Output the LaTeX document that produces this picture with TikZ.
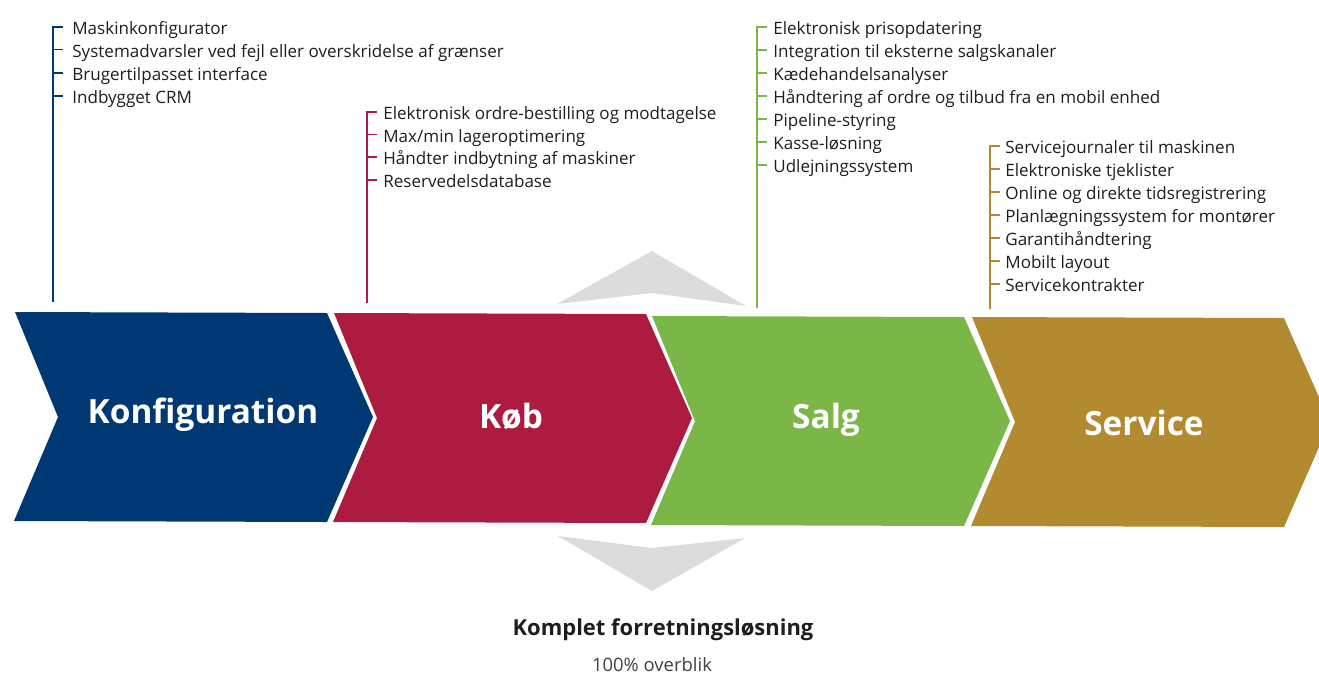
\documentclass[tikz,border=0pt]{standalone}
\usepackage{fontspec}
\setmainfont{Open Sans}
\usepackage{tikz}

\definecolor{konfblue}{RGB}{0,56,115}
\definecolor{kobred}{RGB}{173,28,64}
\definecolor{salggreen}{RGB}{122,182,72}
\definecolor{servgold}{RGB}{178,138,48}
\definecolor{arrowgrey}{RGB}{220,220,220}
\definecolor{itemtext}{RGB}{30,30,30}

\tikzset{
  phase/.style={text=white,font=\fontsize{19}{22}\selectfont\bfseries,inner sep=0pt},
  item/.style={anchor=west,inner sep=0pt,text height=9.07pt,text depth=0pt,
    text=itemtext,font=\fontsize{9.7}{11}\selectfont},
  bar/.style={line width=0.6pt,draw=#1}
}

\begin{document}
\begin{tikzpicture}[x=0.02cm,y=-0.02cm]
    \useasboundingbox (0,0) rectangle (1319,674);

    % the four chevrons
    \fill[konfblue] (15,312) -- ++(312,1) -- ++(46,104) -- ++(-46,105)
      -- ++(-313,-1) -- ++(44,-104) -- cycle;
    \fill[kobred] (334,313) -- ++(312,1) -- ++(46,104) -- ++(-46,105)
      -- ++(-313,-1) -- ++(44,-104) -- cycle;
    \fill[salggreen] (652,316) -- ++(312,1) -- ++(46,104) -- ++(-46,105)
      -- ++(-313,-1) -- ++(44,-104) -- cycle;
    \fill[servgold] (972,317) -- ++(312,1) -- ++(46,104) -- ++(-46,105)
      -- ++(-313,-1) -- ++(44,-104) -- cycle;
    \node[phase] (konf) at (203,415) {Konfiguration};
    \node[phase] (kob) at (511,416) {Køb};
    \node[phase] (salg) at (826,420) {Salg};
    \node[phase] (serv) at (1144,423) {Service};

    % grey arrows
    \fill[arrowgrey] (652,251) -- (746,306) -- (652,293) -- (557,304) -- cycle;
    \fill[arrowgrey] (558,536) -- (652,548) -- (745,538) -- (652,591) -- cycle;

    % Konfiguration
    \begin{scope}
      \coordinate (konftop) at (53,27);
      \coordinate (konfbot) at (53,302);
      \node[item] (k1) at (72,27) {Maskinkonfigurator};
      \node[item] (k2) at (72,49.5) {Systemadvarsler ved fejl eller overskridelse af grænser};
      \node[item] (k3) at (72,73) {Brugertilpasset interface};
      \node[item] (k4) at (72,96) {Indbygget CRM};
      \draw[bar=konfblue] (konfbot) -- (konftop) -- ++(10,0);
      \draw[bar=konfblue] (k2.west -| konftop) -- ++(10,0);
      \draw[bar=konfblue] (k3.west -| konftop) -- ++(10,0);
      \draw[bar=konfblue] (k4.west -| konftop) -- ++(10,0);
    \end{scope}

    % Køb
    \begin{scope}
      \coordinate (kobtop) at (367,112);
      \coordinate (kobbot) at (367,303);
      \node[item] (b1) at (383,112) {Elektronisk ordre-bestilling og modtagelse};
      \node[item] (b2) at (383,134.5) {Max/min lageroptimering};
      \node[item] (b3) at (383,157) {Håndter indbytning af maskiner};
      \node[item] (b4) at (383,180) {Reservedelsdatabase};
      \draw[bar=kobred] (kobbot) -- (kobtop) -- ++(10,0);
      \draw[bar=kobred] (b2.west -| kobtop) -- ++(10,0);
      \draw[bar=kobred] (b3.west -| kobtop) -- ++(10,0);
      \draw[bar=kobred] (b4.west -| kobtop) -- ++(10,0);
    \end{scope}

    % Salg
    \begin{scope}
      \coordinate (salgtop) at (757,27);
      \coordinate (salgbot) at (757,308);
      \node[item] (s1) at (773,27) {Elektronisk prisopdatering};
      \node[item] (s2) at (773,50) {Integration til eksterne salgskanaler};
      \node[item] (s3) at (773,73) {Kædehandelsanalyser};
      \node[item] (s4) at (773,96) {Håndtering af ordre og tilbud fra en mobil enhed};
      \node[item] (s5) at (773,119) {Pipeline-styring};
      \node[item] (s6) at (773,142) {Kasse-løsning};
      \node[item] (s7) at (773,165) {Udlejningssystem};
      \draw[bar=salggreen] (salgbot) -- (salgtop) -- ++(10,0);
      \draw[bar=salggreen] (s2.west -| salgtop) -- ++(10,0);
      \draw[bar=salggreen] (s3.west -| salgtop) -- ++(10,0);
      \draw[bar=salggreen] (s4.west -| salgtop) -- ++(10,0);
      \draw[bar=salggreen] (s5.west -| salgtop) -- ++(10,0);
      \draw[bar=salggreen] (s6.west -| salgtop) -- ++(10,0);
      \draw[bar=salggreen] (s7.west -| salgtop) -- ++(10,0);
    \end{scope}

    % Service
    \begin{scope}
      \coordinate (servtop) at (990,146);
      \coordinate (servbot) at (990,309);
      \node[item] (v1) at (1005,146) {Servicejournaler til maskinen};
      \node[item] (v2) at (1005,169) {Elektroniske tjeklister};
      \node[item] (v3) at (1005,192) {Online og direkte tidsregistrering};
      \node[item] (v4) at (1005,215) {Planlægningssystem for montører};
      \node[item] (v5) at (1005,238) {Garantihåndtering};
      \node[item] (v6) at (1005,261) {Mobilt layout};
      \node[item] (v7) at (1005,284) {Servicekontrakter};
      \draw[bar=servgold] (servbot) -- (servtop) -- ++(10,0);
      \draw[bar=servgold] (v2.west -| servtop) -- ++(10,0);
      \draw[bar=servgold] (v3.west -| servtop) -- ++(10,0);
      \draw[bar=servgold] (v4.west -| servtop) -- ++(10,0);
      \draw[bar=servgold] (v5.west -| servtop) -- ++(10,0);
      \draw[bar=servgold] (v6.west -| servtop) -- ++(10,0);
      \draw[bar=servgold] (v7.west -| servtop) -- ++(10,0);
    \end{scope}

    \node[font=\fontsize{12.5}{15}\selectfont\bfseries,text=itemtext] (total) at (663,630) {Komplet forretningsløsning};
    \node[font=\fontsize{10.5}{12}\selectfont,text=itemtext!85] (overblik) at (652,665) {100\% overblik};
  \end{tikzpicture}
\end{document}
